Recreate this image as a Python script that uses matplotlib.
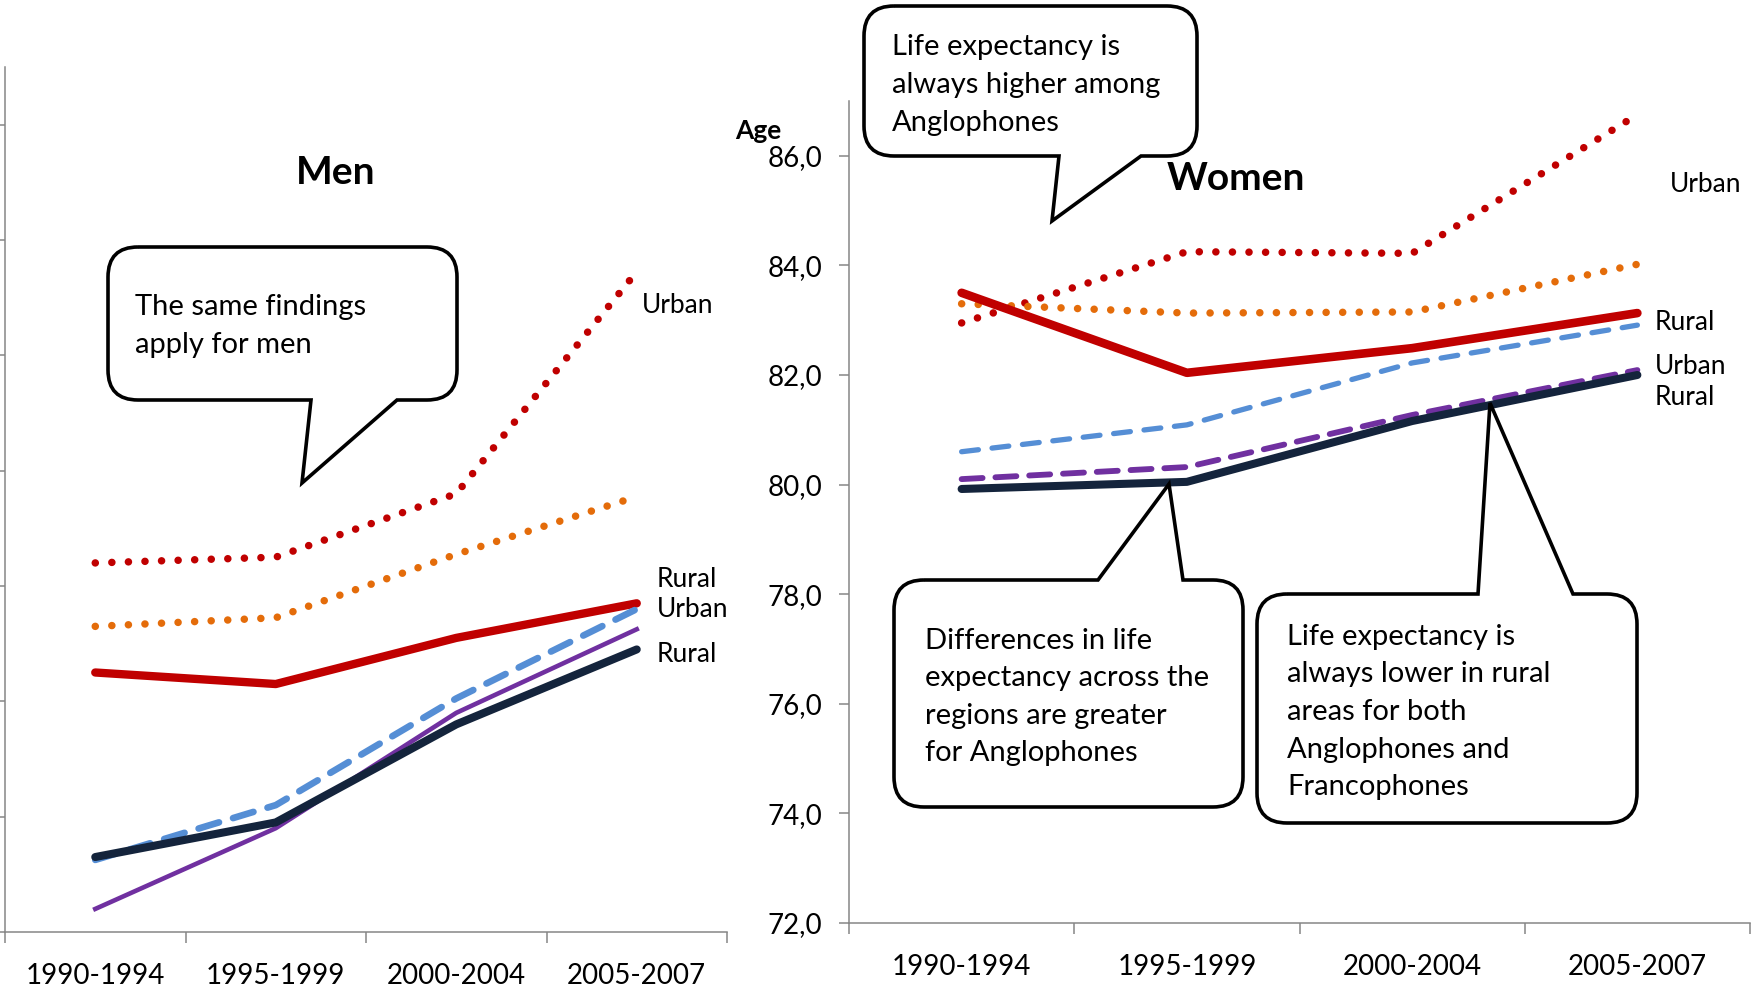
import matplotlib.pyplot as plt
import matplotlib.transforms as mtransforms
from matplotlib.path import Path
from matplotlib.patches import PathPatch

plt.rcParams["font.family"] = ["Lato", "DejaVu Sans"]

periods = ["1990-1994", "1995-1999", "2000-2004", "2005-2007"]

# Men (left panel)
men_red_dotted = [76.4, 76.5, 77.6, 81.45]
men_orange_dotted = [75.3, 75.45, 76.55, 77.55]
men_red_solid = [74.5, 74.3, 75.1, 75.7]
men_blue_dashed = [71.25, 72.2, 74.05, 75.6]
men_purple = [70.4, 71.8, 73.8, 75.25]
men_navy = [71.3, 71.9, 73.6, 74.9]

# Women (right panel)
women_red_dotted = [82.95, 84.25, 84.22, 86.75]
women_orange_dotted = [83.3, 83.13, 83.15, 84.02]
women_red_solid = [83.5, 82.04, 82.49, 83.13]
women_blue_dashed = [80.6, 81.09, 82.22, 82.91]
women_purple_dashed = [80.1, 80.32, 81.27, 82.09]
women_navy = [79.92, 80.05, 81.16, 82.0]

women_yticks = [72, 74, 76, 78, 80, 82, 84, 86]
men_yticks = [70, 72, 74, 76, 78, 80, 82, 84]

RED = "#C00000"
ORANGE = "#E46C0A"
BLUE = "#558ED5"
PURPLE = "#7030A0"
NAVY = "#14243C"
GRID = "#868686"

W, H = 1752, 988
fig = plt.figure(figsize=(W / 100, H / 100), dpi=100)
# pixel coordinates with origin at the top-left corner
px = mtransforms.Affine2D().scale(1 / W, -1 / H).translate(0, 1) + fig.transFigure


def axes_px(left, top, right, bottom):
    return fig.add_axes([left / W, 1 - bottom / H, (right - left) / W, (bottom - top) / H])


def style_axes(ax, ylim, yticks, labels):
    x = range(len(periods))
    ax.set_xlim(-0.5, len(periods) - 0.5)
    ax.set_ylim(*ylim)
    ax.set_xticks(list(x))
    ax.set_xticklabels(periods, fontsize=20)
    ax.set_xticks([i - 0.5 for i in range(len(periods) + 1)], minor=True)
    ax.tick_params(axis="x", which="major", length=0, pad=22)
    ax.tick_params(axis="x", which="minor", length=8, width=1.1, color=GRID)
    ax.set_yticks(yticks)
    if labels:
        ax.set_yticklabels([f"{v:.1f}".replace(".", ",") for v in yticks], fontsize=20)
    else:
        ax.set_yticklabels([])
    ax.tick_params(axis="y", length=7, width=1.1, color=GRID, pad=12)
    for side in ["top", "right"]:
        ax.spines[side].set_visible(False)
    for side in ["left", "bottom"]:
        ax.spines[side].set_color(GRID)
        ax.spines[side].set_linewidth(1.1)
    ax.patch.set_alpha(0)


dot = dict(linestyle=(0, (0.01, 2.2)), dash_capstyle="round", lw=5.4)

# ---- Men
ax1 = axes_px(5, 67, 727, 932)
style_axes(ax1, (70, 85), men_yticks, labels=False)
x = list(range(len(periods)))
ax1.plot(x, men_red_dotted, color=RED, **dot)
ax1.plot(x, men_orange_dotted, color=ORANGE, **dot)
ax1.plot(x, men_red_solid, color=RED, lw=6, solid_capstyle="round")
ax1.plot(x, men_purple, color=PURPLE, lw=3.3)
ax1.plot(x, men_blue_dashed, color=BLUE, lw=4.8, linestyle=(0, (3.2, 2.2)),
         dash_capstyle="round")
ax1.plot(x, men_navy, color=NAVY, lw=5.8, solid_capstyle="round")

# ---- Women
ax2 = axes_px(849, 101, 1750, 923)
style_axes(ax2, (72, 87), women_yticks, labels=True)
ax2.plot(x, women_red_dotted, color=RED, **dot)
ax2.plot(x, women_orange_dotted, color=ORANGE, **dot)
ax2.plot(x, women_red_solid, color=RED, lw=6.2, solid_capstyle="round")
ax2.plot(x, women_blue_dashed, color=BLUE, lw=3.8, linestyle=(0, (3.2, 2.6)),
         dash_capstyle="round")
ax2.plot(x, women_purple_dashed, color=PURPLE, lw=4.2, linestyle=(0, (3.6, 2.2)),
         dash_capstyle="round")
ax2.plot(x, women_navy, color=NAVY, lw=5.8, solid_capstyle="round")

# titles and axis label
fig.text(336, 173, "Men", transform=px, fontsize=28, fontweight="bold",
         ha="center", va="center")
fig.text(1236, 179, "Women", transform=px, fontsize=28, fontweight="bold",
         ha="center", va="center")
fig.text(735, 131, "Age", transform=px, fontsize=19, fontweight="bold",
         ha="left", va="center")

# series labels
for xx, yy, s in [(642, 305, "Urban"), (657, 579, "Rural"), (657, 609, "Urban"),
                  (657, 654, "Rural"), (1670, 184, "Urban"), (1655, 322, "Rural"),
                  (1655, 366, "Urban"), (1655, 397, "Rural")]:
    fig.text(xx, yy, s, transform=px, fontsize=19, ha="left", va="center")


def bubble(x0, y0, x1, y1, r, side, a, b, tip):
    verts = [(x0 + r, y0)]
    codes = [Path.MOVETO]
    if side == "top":
        verts += [(a, y0), tip, (b, y0)]
        codes += [Path.LINETO] * 3
    verts += [(x1 - r, y0), (x1, y0), (x1, y0 + r), (x1, y1 - r), (x1, y1), (x1 - r, y1)]
    codes += [Path.LINETO, Path.CURVE3, Path.CURVE3, Path.LINETO, Path.CURVE3, Path.CURVE3]
    if side == "bottom":
        verts += [(b, y1), tip, (a, y1)]
        codes += [Path.LINETO] * 3
    verts += [(x0 + r, y1), (x0, y1), (x0, y1 - r), (x0, y0 + r), (x0, y0), (x0 + r, y0)]
    codes += [Path.LINETO, Path.CURVE3, Path.CURVE3, Path.LINETO, Path.CURVE3, Path.CURVE3]
    patch = PathPatch(Path(verts, codes), transform=px, facecolor="white",
                      edgecolor="black", lw=2.6, joinstyle="miter", zorder=5)
    fig.add_artist(patch)


bubble(108, 247, 457, 400, 30, "bottom", 311, 397, (302, 483))
bubble(864, 6, 1197, 156, 30, "bottom", 1059, 1141, (1052, 221))
bubble(894, 580, 1243, 807, 30, "top", 1098, 1183, (1169, 484))
bubble(1257, 594, 1637, 823, 30, "top", 1478, 1573, (1490, 403))

notes = [
    (135, 326, "The same findings\napply for men"),
    (892, 85, "Life expectancy is\nalways higher among\nAnglophones"),
    (925, 697, "Differences in life\nexpectancy across the\nregions are greater\nfor Anglophones"),
    (1287, 712, "Life expectancy is\nalways lower in rural\nareas for both\nAnglophones and\nFrancophones"),
]
for xx, yy, s in notes:
    fig.text(xx, yy, s, transform=px, fontsize=21, ha="left", va="center",
             linespacing=1.55, zorder=6)

fig.savefig("out.png", dpi=100)
